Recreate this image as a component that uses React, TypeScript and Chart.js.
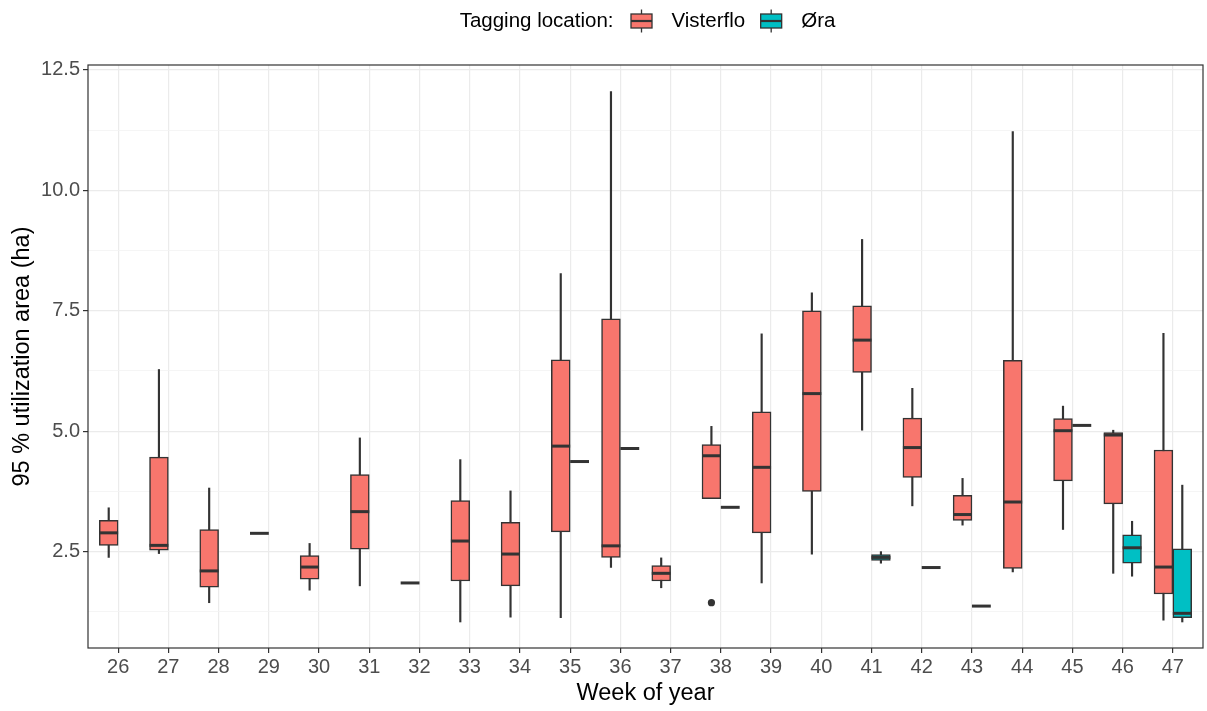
import React, { useEffect, useRef } from 'react';
import { Chart, registerables } from 'chart.js';

Chart.register(...registerables);

// ---------- data ----------
const weeks = [26, 27, 28, 29, 30, 31, 32, 33, 34, 35, 36, 37, 38, 39, 40, 41, 42, 43, 44, 45, 46, 47];
const xTickLabels = ['26', '27', '28', '29', '30', '31', '32', '33', '34', '35', '36', '37', '38', '39', '40', '41', '42', '43', '44', '45', '46', '47'];

// Visterflo (all weeks)
const vLow = [2.38, 2.46, 1.44, 2.88, 1.70, 1.79, 1.85, 1.04, 1.14, 1.13, 2.17, 1.75, 3.60, 1.85, 2.45, 5.02, 3.45, 3.05, 2.08, 2.96, 2.05, 1.08];
const vQ1 = [2.63, 2.53, 1.76, 2.88, 1.93, 2.55, 1.85, 1.89, 1.79, 2.91, 2.38, 1.89, 3.60, 2.89, 3.75, 6.22, 4.04, 3.15, 2.15, 3.97, 3.49, 1.62];
const vMed = [2.89, 2.63, 2.10, 2.88, 2.18, 3.33, 1.85, 2.72, 2.45, 4.69, 2.62, 2.05, 4.49, 4.25, 5.78, 6.89, 4.66, 3.27, 3.53, 5.01, 4.92, 2.18];
const vQ3 = [3.15, 4.46, 2.96, 2.88, 2.42, 4.10, 1.85, 3.56, 3.11, 6.48, 7.33, 2.21, 4.72, 5.40, 7.50, 7.60, 5.27, 3.67, 6.47, 5.26, 4.97, 4.61];
const vHigh = [3.41, 6.28, 3.82, 2.88, 2.67, 4.86, 1.85, 4.41, 3.76, 8.27, 12.05, 2.37, 5.10, 7.02, 7.87, 8.98, 5.89, 4.02, 11.22, 5.52, 5.02, 7.03];
const vOutWeeks = [38];
const vOutValues = [1.44];

// Øra
const oWeeks = [35, 36, 38, 41, 42, 43, 45, 46, 47];
const oLow = [4.37, 4.64, 3.42, 2.26, 2.17, 1.37, 5.12, 1.99, 1.04];
const oQ1 = [4.37, 4.64, 3.42, 2.32, 2.17, 1.37, 5.12, 2.26, 1.13];
const oMed = [4.37, 4.64, 3.42, 2.38, 2.17, 1.37, 5.12, 2.58, 1.22];
const oQ3 = [4.37, 4.64, 3.42, 2.44, 2.17, 1.37, 5.12, 2.85, 2.56];
const oHigh = [4.37, 4.64, 3.42, 2.50, 2.17, 1.37, 5.12, 3.13, 3.88];

const yMajorTicks = [2.5, 5.0, 7.5, 10.0, 12.5];
const yTickLabels = ['2.5', '5.0', '7.5', '10.0', '12.5'];
const yMinorTicks = [1.25, 3.75, 6.25, 8.75, 11.25];

const seriesNames = ['Visterflo', 'Øra'];
const legendTitle = 'Tagging location:';

// ---------- styling ----------
const FAMILY = '"Liberation Sans", Arial, Helvetica, sans-serif';
const COL_V = '#F8766D';
const COL_O = '#00BFC4';
const DARK = '#333333';
const DODGE = 0.1875;

const medianPlugin = {
  id: 'medianLines',
  afterDatasetsDraw(chart: any) {
    const ctx = chart.ctx;
    const ys = chart.scales.y;
    chart.data.datasets.forEach((ds: any, di: number) => {
      if (!ds.medians) return;
      const meta = chart.getDatasetMeta(di);
      meta.data.forEach((el: any, i: number) => {
        const py = ys.getPixelForValue(ds.medians[i]);
        ctx.save();
        ctx.strokeStyle = DARK;
        ctx.lineWidth = 3;
        ctx.beginPath();
        ctx.moveTo(el.x - el.width / 2, py);
        ctx.lineTo(el.x + el.width / 2, py);
        ctx.stroke();
        ctx.restore();
      });
    });
    const a = chart.chartArea;
    ctx.save();
    ctx.strokeStyle = DARK;
    ctx.lineWidth = 1.2;
    ctx.strokeRect(a.left, a.top, a.right - a.left, a.bottom - a.top);
    ctx.restore();
  },
};

function drawKey(ctx: CanvasRenderingContext2D, cx: number, cy: number, color: string) {
  ctx.save();
  ctx.strokeStyle = DARK;
  ctx.lineWidth = 1.3;
  ctx.beginPath();
  ctx.moveTo(cx, cy - 11.5);
  ctx.lineTo(cx, cy - 7);
  ctx.moveTo(cx, cy + 7);
  ctx.lineTo(cx, cy + 11.5);
  ctx.stroke();
  ctx.fillStyle = color;
  ctx.fillRect(cx - 10.5, cy - 7, 21, 14);
  ctx.strokeRect(cx - 10.5, cy - 7, 21, 14);
  ctx.lineWidth = 2.2;
  ctx.beginPath();
  ctx.moveTo(cx - 10.5, cy);
  ctx.lineTo(cx + 10.5, cy);
  ctx.stroke();
  ctx.restore();
}

const legendPlugin = {
  id: 'ggLegend',
  afterDraw(chart: any) {
    const ctx = chart.ctx as CanvasRenderingContext2D;
    const a = chart.chartArea;
    const cy = 21;
    ctx.save();
    ctx.font = `20.5px ${FAMILY}`;
    ctx.textBaseline = 'middle';
    ctx.fillStyle = '#000000';
    const wT = ctx.measureText(legendTitle).width;
    const wV = ctx.measureText(seriesNames[0]).width;
    const wO = ctx.measureText(seriesNames[1]).width;
    const key = 28, gTK = 14, gKL = 16, gLK = 12;
    const total = wT + gTK + key + gKL + wV + gLK + key + gKL + wO;
    let x = (a.left + a.right) / 2 - total / 2 + 2;
    ctx.textAlign = 'left';
    ctx.fillText(legendTitle, x, cy);
    x += wT + gTK;
    drawKey(ctx, x + key / 2, cy, COL_V);
    x += key + gKL;
    ctx.fillStyle = '#000000';
    ctx.fillText(seriesNames[0], x, cy);
    x += wV + gLK;
    drawKey(ctx, x + key / 2, cy, COL_O);
    x += key + gKL;
    ctx.fillStyle = '#000000';
    ctx.fillText(seriesNames[1], x, cy);
    ctx.restore();
  },
};

export default function App() {
  const ref = useRef<HTMLCanvasElement | null>(null);

  useEffect(() => {
    document.body.style.margin = '0';
    document.body.style.overflow = 'hidden';
    const canvas = ref.current;
    if (!canvas) return;

    const boxCommon = {
      type: 'bar',
      grouped: false,
      categoryPercentage: 1,
      barPercentage: 1,
      borderColor: DARK,
      borderWidth: 1.5,
      borderSkipped: false,
      order: 1,
    };
    const whiskerCommon = {
      type: 'bar',
      grouped: false,
      barThickness: 1.5,
      backgroundColor: DARK,
      borderWidth: 0,
      order: 3,
    };

    const chart = new Chart(canvas, {
      type: 'bar',
      data: {
        datasets: [
          {
            ...whiskerCommon,
            label: 'Visterflo whiskers',
            data: weeks.map((w, i) => ({ x: w - DODGE, y: [vLow[i], vHigh[i]] })),
          },
          {
            ...whiskerCommon,
            label: 'Øra whiskers',
            data: oWeeks.map((w, i) => ({ x: w + DODGE, y: [oLow[i], oHigh[i]] })),
          },
          {
            ...boxCommon,
            label: seriesNames[0],
            backgroundColor: COL_V,
            medians: vMed,
            data: weeks.map((w, i) => ({ x: w - DODGE, y: [vQ1[i], vQ3[i]] })),
          },
          {
            ...boxCommon,
            label: seriesNames[1],
            backgroundColor: COL_O,
            medians: oMed,
            data: oWeeks.map((w, i) => ({ x: w + DODGE, y: [oQ1[i], oQ3[i]] })),
          },
          {
            type: 'scatter',
            label: 'outliers',
            data: vOutWeeks.map((w, i) => ({ x: w - DODGE, y: vOutValues[i] })),
            pointRadius: 3.6,
            pointBackgroundColor: DARK,
            pointBorderWidth: 0,
            order: 0,
          },
        ] as any,
      },
      plugins: [medianPlugin, legendPlugin],
      options: {
        responsive: false,
        animation: false,
        devicePixelRatio: 1,
        events: [],
        layout: { padding: { top: 65, right: 2, bottom: 0, left: 0 } },
        plugins: {
          legend: { display: false },
          tooltip: { enabled: false },
          title: { display: false },
        },
        scales: {
          x: {
            type: 'linear',
            min: 25.4,
            max: 47.6,
            offset: false,
            afterBuildTicks: (s: any) => {
              s.ticks = weeks.map((v) => ({ value: v }));
            },
            afterFit: (s: any) => {
              s.height = 63;
            },
            ticks: {
              autoSkip: false,
              maxRotation: 0,
              padding: 2,
              color: '#4D4D4D',
              font: { family: FAMILY, size: 20 },
              callback: (_v: any, i: number) => xTickLabels[i],
            },
            grid: {
              offset: false,
              color: '#EBEBEB',
              lineWidth: 1.2,
              drawTicks: true,
              tickLength: 5,
              tickColor: DARK,
              tickWidth: 1.2,
            },
            border: { display: false },
            title: {
              display: true,
              text: 'Week of year',
              color: '#000000',
              font: { family: FAMILY, size: 23.5, lineHeight: 1 },
              padding: { top: 0, bottom: 6 },
            },
          },
          y: {
            type: 'linear',
            min: 0.5,
            max: 12.6,
            afterBuildTicks: (s: any) => {
              s.ticks = [...yMinorTicks, ...yMajorTicks]
                .sort((a, b) => a - b)
                .map((v) => ({ value: v }));
            },
            afterFit: (s: any) => {
              s.width = 88;
            },
            ticks: {
              padding: 3,
              color: '#4D4D4D',
              font: { family: FAMILY, size: 20 },
              callback: (v: any) => {
                const i = yMajorTicks.indexOf(Number(v));
                return i >= 0 ? yTickLabels[i] : '';
              },
            },
            grid: {
              color: (c: any) => (yMajorTicks.includes(c.tick?.value) ? '#EBEBEB' : '#F3F3F3'),
              lineWidth: (c: any) => (yMajorTicks.includes(c.tick?.value) ? 1.2 : 0.8),
              drawTicks: true,
              tickLength: 5,
              tickColor: (c: any) => (yMajorTicks.includes(c.tick?.value) ? DARK : 'rgba(0,0,0,0)'),
              tickWidth: 1.2,
            },
            border: { display: false },
            title: {
              display: true,
              text: '95 % utilization area (ha)',
              color: '#000000',
              font: { family: FAMILY, size: 23.5, lineHeight: 1 },
              padding: { top: 11, bottom: 0 },
            },
          },
        },
      } as any,
    });

    return () => {
      chart.destroy();
    };
  }, []);

  return (
    <div style={{ width: '1207px', height: '711px', background: '#ffffff' }}>
      <canvas ref={ref} width={1207} height={711} style={{ display: 'block' }} />
    </div>
  );
}
